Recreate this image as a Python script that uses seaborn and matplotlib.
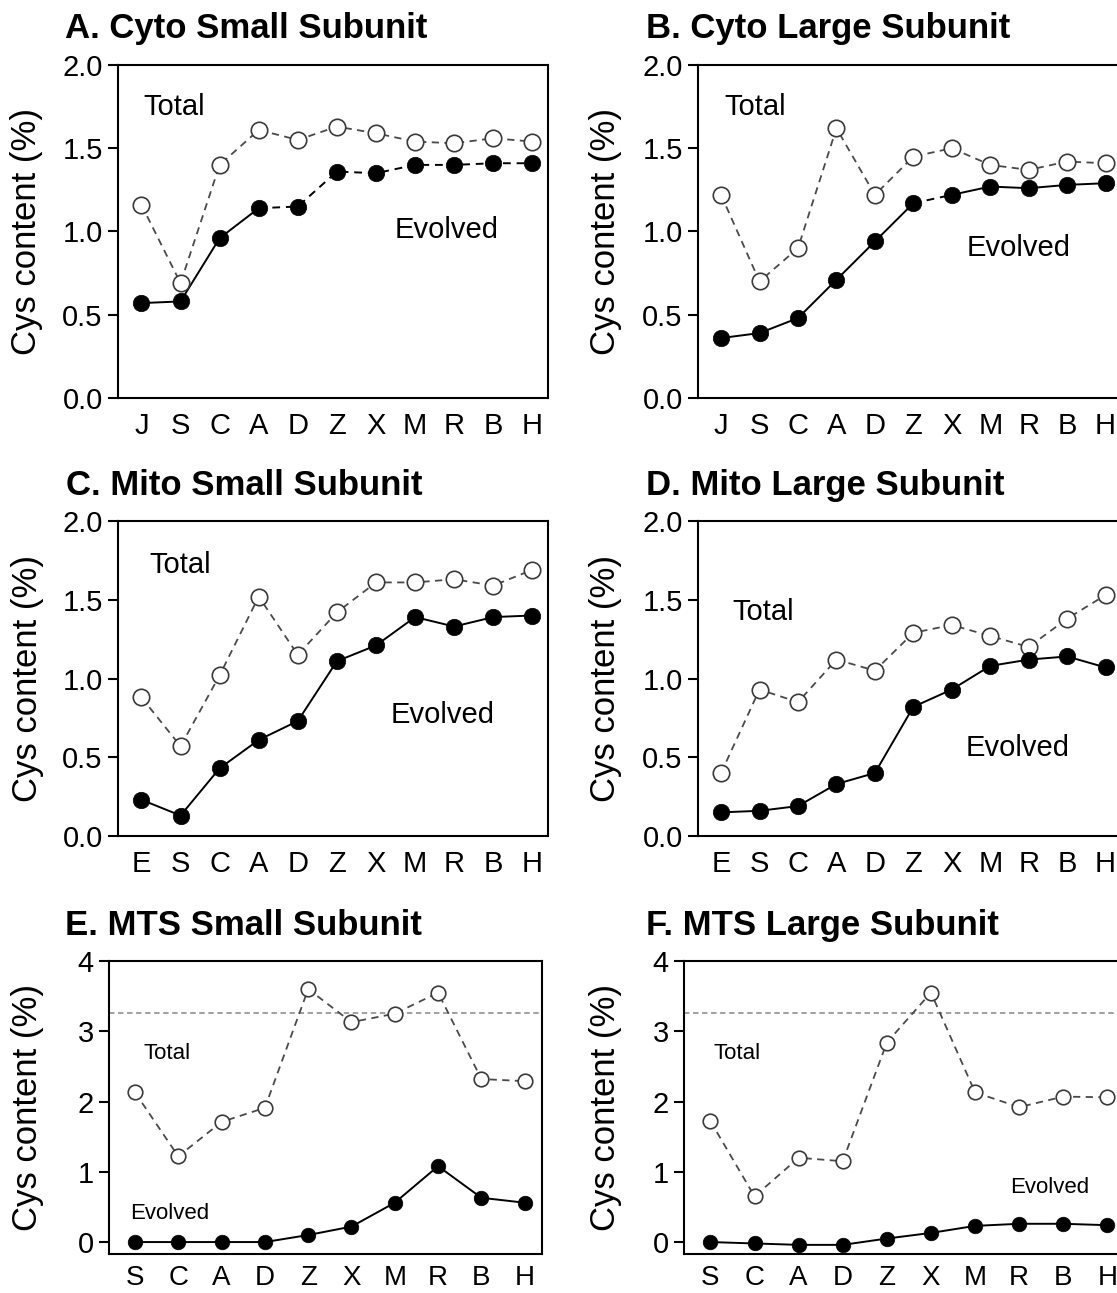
import numpy as np
import pandas as pd
import seaborn as sns
import matplotlib.pyplot as plt

# species order on the x axis of each panel
cyto_order = ['J', 'S', 'C', 'A', 'D', 'Z', 'X', 'M', 'R', 'B', 'H']
mito_order = ['E', 'S', 'C', 'A', 'D', 'Z', 'X', 'M', 'R', 'B', 'H']
mts_order = ['S', 'C', 'A', 'D', 'Z', 'X', 'M', 'R', 'B', 'H']

# Cys content (%)
cyto_small_total = [1.16, 0.69, 1.40, 1.61, 1.55, 1.63, 1.59, 1.54, 1.53, 1.56, 1.54]
cyto_small_evolved = [0.57, 0.58, 0.96, 1.14, 1.15, 1.36, 1.35, 1.40, 1.40, 1.41, 1.41]

cyto_large_total = [1.22, 0.70, 0.90, 1.62, 1.22, 1.45, 1.50, 1.40, 1.37, 1.42, 1.41]
cyto_large_evolved = [0.36, 0.39, 0.48, 0.71, 0.94, 1.17, 1.22, 1.27, 1.26, 1.28, 1.29]

mito_small_total = [0.88, 0.57, 1.02, 1.52, 1.15, 1.42, 1.61, 1.61, 1.63, 1.59, 1.69]
mito_small_evolved = [0.23, 0.13, 0.43, 0.61, 0.73, 1.11, 1.21, 1.39, 1.33, 1.39, 1.40]

mito_large_total = [0.40, 0.93, 0.85, 1.12, 1.05, 1.29, 1.34, 1.27, 1.20, 1.38, 1.53]
mito_large_evolved = [0.15, 0.16, 0.19, 0.33, 0.40, 0.82, 0.93, 1.08, 1.12, 1.14, 1.07]

mts_small_total = [2.13, 1.22, 1.71, 1.91, 3.60, 3.13, 3.25, 3.55, 2.32, 2.29]
mts_small_evolved = [0.0, 0.0, 0.0, 0.0, 0.10, 0.22, 0.56, 1.08, 0.63, 0.56]

mts_large_total = [1.72, 0.65, 1.20, 1.15, 2.84, 3.55, 2.13, 1.92, 2.07, 2.06]
mts_large_evolved = [0.0, -0.02, -0.04, -0.04, 0.05, 0.13, 0.23, 0.26, 0.26, 0.24]

mts_reference = 3.26

titles = ['A. Cyto Small Subunit', 'B. Cyto Large Subunit',
          'C. Mito Small Subunit', 'D. Mito Large Subunit',
          'E. MTS Small Subunit', 'F. MTS Large Subunit']

sns.set_style('ticks')
plt.rcParams['font.family'] = ['Liberation Sans', 'DejaVu Sans']
plt.rcParams['axes.linewidth'] = 1.5
plt.rcParams['text.color'] = 'black'
plt.rcParams['xtick.color'] = 'black'
plt.rcParams['ytick.color'] = 'black'
plt.rcParams['axes.edgecolor'] = 'black'

W, H = 1117, 1293
fig = plt.figure(figsize=(W / 100, H / 100), dpi=100)

# layout in pixels: axes box (left, top, right, bottom), title baseline, label x
layout = [
    dict(box=(118, 65, 548, 398), tx=65, ty=38, lx=27),
    dict(box=(698, 65, 1121, 398), tx=646, ty=38, lx=606),
    dict(box=(118, 521, 548, 836), tx=66, ty=495, lx=28),
    dict(box=(698, 521, 1121, 836), tx=646, ty=495, lx=606),
    dict(box=(109, 961, 542, 1254), tx=65, ty=935, lx=28),
    dict(box=(684, 961, 1125, 1254), tx=646, ty=935, lx=606),
]

series = [
    (cyto_order, cyto_small_total, cyto_small_evolved),
    (cyto_order, cyto_large_total, cyto_large_evolved),
    (mito_order, mito_small_total, mito_small_evolved),
    (mito_order, mito_large_total, mito_large_evolved),
    (mts_order, mts_small_total, mts_small_evolved),
    (mts_order, mts_large_total, mts_large_evolved),
]

# where the "Total" / "Evolved" words sit (data coords) and their size
label_pos = [
    ((0.85, 1.75), (7.8, 1.01), 21),
    ((0.9, 1.75), (7.75, 0.90), 21),
    ((1.0, 1.72), (7.7, 0.77), 21),
    ((1.1, 1.42), (7.7, 0.56), 21),
    ((0.75, 2.69), (0.8, 0.41), 16),
    ((0.6, 2.69), (7.7, 0.77), 16),
]

# segments of the evolved line that are drawn dashed
evolved_dash = {0: (3, 10), 1: (5, 6)}

for i, (cats, total, evolved) in enumerate(series):
    lay = layout[i]
    l, t, r, b = lay['box']
    ax = fig.add_axes([l / W, 1 - b / H, (r - l) / W, (b - t) / H])
    n = len(cats)
    df = pd.DataFrame({'pos': np.arange(n), 'total': total, 'evolved': evolved})
    mts = i >= 4
    ms = 110 if mts else 140

    if mts:
        ax.axhline(mts_reference, color='#999999', lw=1.3, ls=(0, (3, 2)), zorder=1)

    sns.lineplot(data=df, x='pos', y='total', ax=ax, color='#4a4a4a', lw=1.3,
                 linestyle=(0, (4, 3)), zorder=2)
    if i in evolved_dash:
        s0, s1 = evolved_dash[i]
        sns.lineplot(data=df.iloc[:s0 + 1], x='pos', y='evolved', ax=ax,
                     color='black', lw=1.4, zorder=2)
        sns.lineplot(data=df.iloc[s0:s1 + 1], x='pos', y='evolved', ax=ax,
                     color='black', lw=1.4, linestyle=(0, (4, 3)), zorder=2)
        if s1 < n - 1:
            sns.lineplot(data=df.iloc[s1:], x='pos', y='evolved', ax=ax,
                         color='black', lw=1.4, zorder=2)
    else:
        sns.lineplot(data=df, x='pos', y='evolved', ax=ax, color='black',
                     lw=1.4, zorder=2)

    sns.scatterplot(data=df, x='pos', y='total', ax=ax, s=ms, color='white',
                    edgecolor='#3a3a3a', linewidth=1.2, zorder=3)
    sns.scatterplot(data=df, x='pos', y='evolved', ax=ax, s=ms, color='black',
                    edgecolor='black', linewidth=0.5, zorder=3)

    ax.set_xlim(-0.6, n - 1 + 0.4)
    if mts:
        ax.set_ylim(-0.17, 4.0)
        ax.set_yticks([0, 1, 2, 3, 4], ['0', '1', '2', '3', '4'])
    else:
        ax.set_ylim(0, 2.0)
        yt = [0, 0.5, 1.0, 1.5, 2.0]
        ax.set_yticks(yt, [f'{v:.1f}' for v in yt])
    ax.set_xticks(np.arange(n), cats)
    ax.set_xlabel('')
    ax.set_ylabel('')
    if mts:
        ax.tick_params(axis='x', length=0, pad=8, labelsize=20)
    else:
        ax.tick_params(axis='x', length=0, pad=10, labelsize=21)
    ax.tick_params(axis='y', length=7, width=1.5, pad=4, labelsize=21)
    for sp in ax.spines.values():
        sp.set_linewidth(1.5)
        sp.set_color('black')

    (tx, ty), (ex, ey), fs = label_pos[i]
    ax.text(tx, ty, 'Total', ha='center', va='center', fontsize=fs)
    ax.text(ex, ey, 'Evolved', ha='center', va='center', fontsize=fs)

    fig.text(lay['tx'] / W, 1 - lay['ty'] / H, titles[i], fontsize=25,
             fontweight='bold', ha='left', va='baseline')
    fig.text(lay['lx'] / W, 1 - ((t + b) / 2) / H, 'Cys content (%)',
             rotation=90, fontsize=25, ha='center', va='center')

fig.savefig('out.png', dpi=100)
